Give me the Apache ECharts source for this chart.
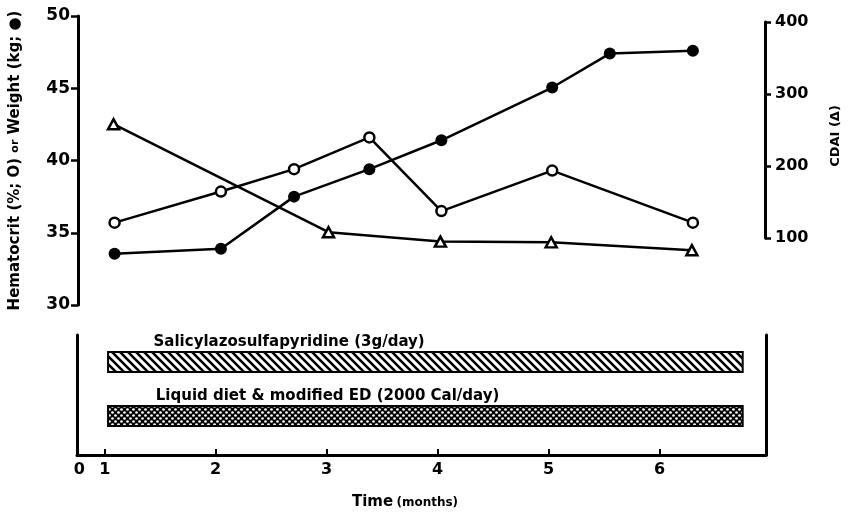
<!DOCTYPE html>
<html><head><meta charset="utf-8">
<script src="https://cdn.jsdelivr.net/npm/echarts@6/dist/echarts.min.js"></script>
<style>html,body{margin:0;padding:0;background:#fff}#c{width:850px;height:513px}</style>
</head><body><div id="c"></div>
<script>
// ---- data ----
const weightMonths = [1.08, 2.04, 2.7, 3.38, 4.03, 5.03, 5.55, 6.3];
const weight = [33.55, 33.9, 37.5, 39.4, 41.4, 45.05, 47.4, 47.6];
const hctMonths = [1.08, 2.04, 2.7, 3.38, 4.03, 5.03, 6.3];
const hematocrit = [35.7, 37.85, 39.4, 41.6, 36.5, 39.3, 35.7];
const cdaiMonths = [1.08, 3.02, 4.03, 5.03, 6.3];
const cdai = [258, 108, 95, 94, 83];
const treatments = ['Salicylazosulfapyridine (3g/day)', 'Liquid diet & modified ED (2000 Cal/day)'];
const treatStart = [1.03, 1.03];
const treatEnd = [6.75, 6.75];
const treatLabelAt = [1.44, 1.46];
const xTickValues = [0.77, 1, 2, 3, 4, 5, 6];
const xTickLabels = ['0', '1', '2', '3', '4', '5', '6'];
const xMin = 0.75, xMax = 6.96;

// ---- patterns ----
function hatch() {
  const c = document.createElement('canvas'); c.width = c.height = 8;
  const g = c.getContext('2d');
  g.fillStyle = '#fff'; g.fillRect(0, 0, 8, 8);
  g.strokeStyle = '#000'; g.lineWidth = 2.6; g.beginPath();
  g.moveTo(-2, -2); g.lineTo(10, 10);
  g.moveTo(-2, 6); g.lineTo(2, 10);
  g.moveTo(6, -2); g.lineTo(10, 2);
  g.stroke(); return c;
}
function dots() {
  const c = document.createElement('canvas'); c.width = c.height = 6;
  const g = c.getContext('2d');
  g.fillStyle = '#000'; g.fillRect(0, 0, 6, 6);
  g.fillStyle = '#fff';
  [[1.5, 1.5], [4.5, 4.5]].forEach(p => { g.beginPath(); g.arc(p[0], p[1], 1.35, 0, Math.PI * 2); g.fill(); });
  return c;
}
const patterns = [{ image: hatch(), repeat: 'repeat' }, { image: dots(), repeat: 'repeat' }];

const FONT = '"DejaVu Sans", Verdana, sans-serif';
const axisLineStyle = { color: '#000', width: 3 };
const boldBlack = { color: '#000', fontWeight: 'bold', fontFamily: FONT };

const chart = echarts.init(document.getElementById('c'));
chart.setOption({
  animation: false,
  backgroundColor: '#fff',
  grid: [
    { left: 77, right: 84, top: 16, bottom: 208 },
    { left: 77, right: 84, top: 22, bottom: 275 },
    { left: 77, right: 84, top: 335, bottom: 58 },
    { left: 77, right: 84, top: 335, bottom: 70 }
  ],
  xAxis: [
    { gridIndex: 0, type: 'value', min: xMin, max: xMax, show: false },
    { gridIndex: 1, type: 'value', min: xMin, max: xMax, show: false },
    { gridIndex: 2, type: 'value', min: xMin, max: xMax,
      axisLine: { show: true, onZero: false, lineStyle: axisLineStyle },
      axisTick: { show: true, inside: true, length: 6, customValues: [1, 2, 3, 4, 5, 6], lineStyle: { color: '#000', width: 2 } },
      axisLabel: Object.assign({ customValues: xTickValues, fontSize: 16, margin: 7,
        formatter: v => { let best = 0; xTickValues.forEach((t, i) => { if (Math.abs(t - v) < Math.abs(xTickValues[best] - v)) best = i; }); return xTickLabels[best]; } }, boldBlack),
      splitLine: { show: false },
      name: '{a|Time} {b|(months)}', nameLocation: 'middle', nameGap: 40,
      nameTextStyle: { padding: [0, 33, 0, 0], rich: {
        a: Object.assign({ fontSize: 15 }, boldBlack),
        b: Object.assign({ fontSize: 12 }, boldBlack) } }
    },
    { gridIndex: 3, type: 'value', min: xMin, max: xMax, show: false }
  ],
  yAxis: [
    { gridIndex: 0, type: 'value', min: 30, max: 50, interval: 5,
      axisLine: { show: true, onZero: false, lineStyle: axisLineStyle },
      axisTick: { show: true, length: 7, lineStyle: { color: '#000', width: 2.5 } },
      axisLabel: Object.assign({ fontSize: 17, margin: 8 }, boldBlack),
      splitLine: { show: false },
      name: 'Hematocrit (%; O) {s|or} Weight (kg; ●)', nameLocation: 'middle', nameRotate: 90, nameGap: 55,
      nameTextStyle: Object.assign({ fontSize: 15, rich: { s: Object.assign({ fontSize: 11 }, boldBlack) } }, boldBlack)
    },
    { gridIndex: 1, type: 'value', min: 100, max: 400, interval: 100, position: 'right',
      axisLine: { show: true, onZero: false, lineStyle: axisLineStyle },
      axisTick: { show: true, length: 6, lineStyle: { color: '#000', width: 2.5 } },
      axisLabel: Object.assign({ fontSize: 16, margin: 10 }, boldBlack),
      splitLine: { show: false },
      name: 'CDAI (Δ)', nameLocation: 'middle', nameRotate: 90, nameGap: 64,
      nameTextStyle: Object.assign({ fontSize: 13, padding: [0, 12, 0, 0] }, boldBlack)
    },
    { gridIndex: 2, type: 'value', min: 0, max: 1, axisLine: { show: true, onZero: false, lineStyle: axisLineStyle },
      axisTick: { show: false }, axisLabel: { show: false }, splitLine: { show: false } },
    { gridIndex: 2, type: 'value', min: 0, max: 1, position: 'right', axisLine: { show: true, onZero: false, lineStyle: axisLineStyle },
      axisTick: { show: false }, axisLabel: { show: false }, splitLine: { show: false } },
    { gridIndex: 3, type: 'category', data: treatments, inverse: true, show: false }
  ],
  series: [
    { type: 'line', xAxisIndex: 0, yAxisIndex: 0, data: weightMonths.map((m, i) => [m, weight[i]]),
      symbol: 'circle', symbolSize: 12, z: 3,
      itemStyle: { color: '#000' }, lineStyle: { color: '#000', width: 2.5 } },
    { type: 'line', xAxisIndex: 0, yAxisIndex: 0, data: hctMonths.map((m, i) => [m, hematocrit[i]]),
      symbol: 'circle', symbolSize: 10, z: 3,
      itemStyle: { color: '#fff', borderColor: '#000', borderWidth: 2.5 }, lineStyle: { color: '#000', width: 2.5 } },
    { type: 'line', xAxisIndex: 1, yAxisIndex: 1, clip: false, data: cdaiMonths.map((m, i) => [m, cdai[i]]),
      symbol: 'triangle', symbolSize: [11, 10], z: 3,
      itemStyle: { color: '#fff', borderColor: '#000', borderWidth: 2.5 }, lineStyle: { color: '#000', width: 2.5 } },
    { type: 'custom', xAxisIndex: 3, yAxisIndex: 4,
      data: treatments.map((t, i) => [treatStart[i], treatEnd[i], i, treatLabelAt[i]]),
      encode: { x: [0, 1], y: 2 },
      renderItem: (params, api) => {
        const i = params.dataIndex;
        const s = api.coord([api.value(0), api.value(2)]);
        const e = api.coord([api.value(1), api.value(2)]);
        const l = api.coord([api.value(3), api.value(2)]);
        const h = api.size([0, 1])[1] * 0.37;
        return { type: 'group', children: [
          { type: 'rect', shape: { x: s[0], y: s[1] - h / 2, width: e[0] - s[0], height: h },
            style: { fill: patterns[i], stroke: '#000', lineWidth: 2 } },
          { type: 'text', x: l[0], y: s[1] - h / 2 - 10,
            style: { text: treatments[i], fill: '#000', fontSize: 15, fontWeight: 'bold', fontFamily: FONT, align: 'left', verticalAlign: 'middle' } }
        ] };
      }
    }
  ]
});
</script></body></html>
